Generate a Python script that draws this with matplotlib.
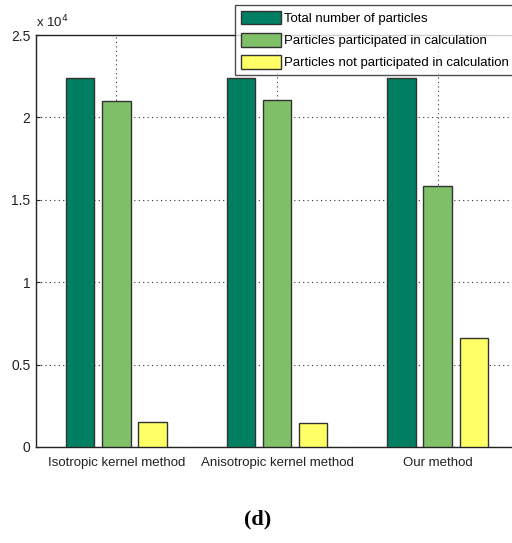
import matplotlib
matplotlib.use("Agg")
import matplotlib.pyplot as plt
import numpy as np

plt.rcParams['font.family'] = ['Liberation Sans', 'DejaVu Sans']

methods = ["Isotropic kernel method", "Anisotropic kernel method", "Our method"]
total = [2.24, 2.24, 2.24]          # x 10^4
participated = [2.10, 2.105, 1.584]
not_participated = [0.154, 0.144, 0.663]
series_names = ["Total number of particles",
                "Particles participated in calculation",
                "Particles not participated in calculation"]
colors = ["#007F62", "#80C068", "#FFFF66"]

W, H = 512, 543
fig = plt.figure(figsize=(W / 100, H / 100), dpi=100)
x0, x1 = 36, 518
ytop, ybot = 35, 447
ax = fig.add_axes([x0 / W, 1 - ybot / H, (x1 - x0) / W, (ybot - ytop) / H])

x = np.arange(1, len(methods) + 1)
offset = 0.225
width = 0.178
for i, (vals, c, name) in enumerate(zip([total, participated, not_participated], colors, series_names)):
    ax.bar(x + (i - 1) * offset, vals, width=width, color=c, edgecolor="#333333",
           linewidth=1.0, label=name, zorder=3)

ax.set_xlim(0.5, 3.5)
ax.set_ylim(0, 2.5)
ax.set_xticks(x)
ax.set_xticklabels(methods, fontsize=9.5)
ax.set_yticks([0, 0.5, 1, 1.5, 2, 2.5])
ax.set_yticklabels(["0", "0.5", "1", "1.5", "2", "2.5"], fontsize=10)
ax.tick_params(direction="in", length=3, color="#222222", labelcolor="#222222")
ax.tick_params(axis="x", pad=7)
ax.tick_params(axis="y", pad=4)
ax.grid(True, linestyle=(0, (1, 3)), color="#333333", linewidth=0.8, zorder=0)
ax.set_axisbelow(True)
for s in ax.spines.values():
    s.set_color("#222222")
    s.set_linewidth(1.0)

ax.text(0.0, 1.012, r"x 10$^4$", transform=ax.transAxes, fontsize=9.5,
        ha="left", va="bottom", color="#222222")

leg = ax.legend(loc="upper left", bbox_to_anchor=((235 - x0) / (x1 - x0), 1 + (ytop - 5) / (ybot - ytop)),
                prop={"size": 9.5}, frameon=True, fancybox=False, edgecolor="#222222",
                handlelength=3.0, handleheight=1.2, borderpad=0.45, labelspacing=0.6,
                handletextpad=0.3, borderaxespad=0)
leg.get_frame().set_linewidth(1.0)
leg.set_zorder(10)

fig.text(258 / W, 1 - 519 / H, "(d)", fontsize=16, fontweight="bold",
         family="Liberation Serif", ha="center", va="center")

fig.savefig("out.png", dpi=100)
